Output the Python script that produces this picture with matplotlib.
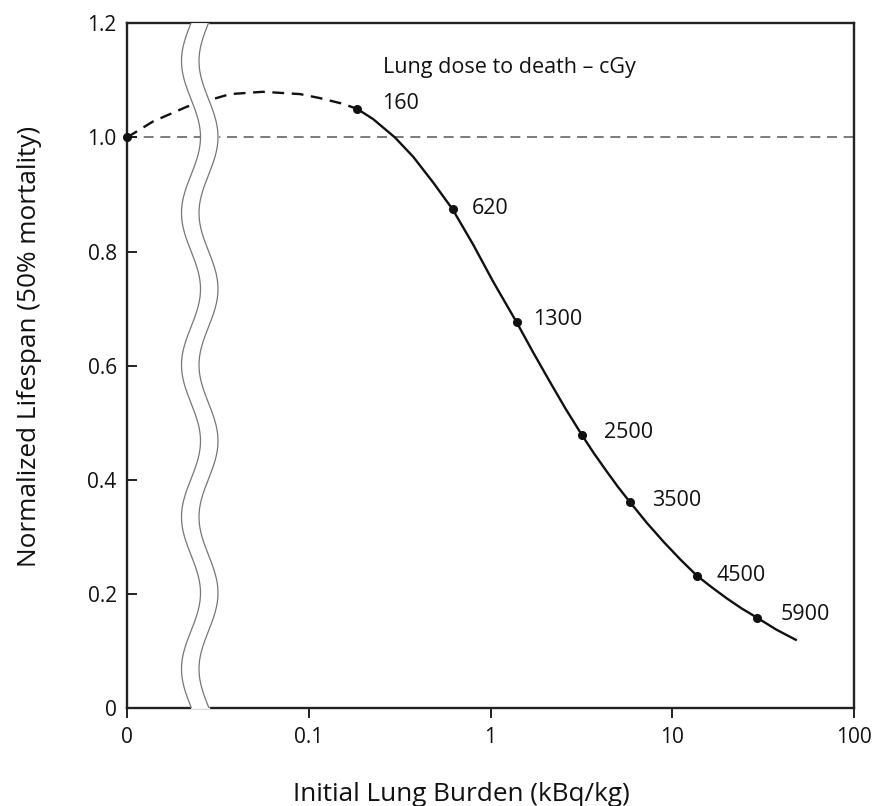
import numpy as np
import matplotlib.pyplot as plt

plt.rcParams['font.family'] = ['Open Sans', 'DejaVu Sans']

# points with the lung dose labels
burden_pts = [0.185, 0.619, 1.394, 3.18, 5.86, 13.7, 29.2]
lifespan_pts = [1.050, 0.874, 0.676, 0.479, 0.361, 0.232, 0.159]
dose_labels = ['160', '620', '1300', '2500', '3500', '4500', '5900']

# solid curve
curve_burden = [0.185, 0.2265, 0.298, 0.376, 0.484, 0.619, 0.804, 1.036,
                1.394, 1.713, 2.104, 2.586, 3.18, 3.702, 4.313, 5.023,
                5.86, 7.24, 8.97, 11.10, 13.7, 16.58, 20.01, 24.15,
                29.2, 37.3, 47.8]
curve_lifespan = [1.050, 1.032, 1.000, 0.966, 0.921, 0.874, 0.812, 0.747,
                  0.676, 0.624, 0.574, 0.525, 0.479, 0.447, 0.417, 0.388,
                  0.361, 0.325, 0.2915, 0.2605, 0.232, 0.2115, 0.1923, 0.1747,
                  0.159, 0.138, 0.120]

# dashed part (control to first dose point)
dash_burden = [0, 0.0139, 0.0214, 0.0369, 0.056, 0.0895, 0.115, 0.154, 0.185]
dash_lifespan = [1.0, 1.028, 1.054, 1.076, 1.080, 1.076, 1.069, 1.059, 1.050]

xticks = [0, 0.1, 1, 10, 100]
xtick_labels = ['0', '0.1', '1', '10', '100']
yticks = [0, 0.2, 0.4, 0.6, 0.8, 1.0, 1.2]
ytick_labels = ['0', '0.2', '0.4', '0.6', '0.8', '1.0', '1.2']

# label offsets in points (x, y)
label_offsets = [(18, 4), (14, 1), (12, 2), (16, 2), (16, 1), (14, 0), (17, 2)]


def fwd(x):
    return np.log10(np.clip(x, 0.01, None))


def inv(y):
    return 10 ** y


W, H = 875, 806
fig = plt.figure(figsize=(W / 100, H / 100), dpi=100)
L, R, T, B = 127, 854, 23.3, 708.3
ax = fig.add_axes([L / W, 1 - B / H, (R - L) / W, (B - T) / H])

ax.set_xscale('function', functions=(fwd, inv))
ax.set_xlim(0, 100)
ax.set_ylim(0, 1.2)

ax.axhline(1.0, color='#666666', lw=1.2, dashes=(6, 4), zorder=1)
ax.plot(dash_burden, dash_lifespan, color='#111111', lw=1.7, dashes=(5, 3.2), zorder=2)
ax.plot(curve_burden, curve_lifespan, color='#111111', lw=1.7, zorder=2)
ax.plot(burden_pts, lifespan_pts, 'o', color='#111111', ms=5.5, zorder=5)
ax.plot([0], [1.0], 'o', color='#111111', ms=5.5, zorder=6, clip_on=False)

for bx, ly, lab, off in zip(burden_pts, lifespan_pts, dose_labels, label_offsets):
    ax.annotate(lab, (bx, ly), xytext=off, textcoords='offset points',
                ha='left', va='center', fontsize=15.5, color='#111111')

ax.text((383 - L) / (R - L), (B - 68) / (B - T), 'Lung dose to death – cGy',
        transform=ax.transAxes, ha='left', va='center', fontsize=15.5, color='#111111')

# axis break (two wavy lines)
py = np.linspace(T, B, 400)
wx = 191 + 9.5 * np.cos(2 * np.pi * (py - 137) / 152)
ya = (B - py) / (B - T)
x1 = (wx - L) / (R - L)
x2 = (wx + 17.5 - L) / (R - L)
ax.fill_betweenx(ya, x1, x2, color='white', transform=ax.transAxes, zorder=3)
ax.plot(x1, ya, color='#777777', lw=0.9, transform=ax.transAxes, zorder=4)
ax.plot(x2, ya, color='#777777', lw=0.9, transform=ax.transAxes, zorder=4)

ax.set_xticks(xticks, labels=xtick_labels)
ax.xaxis.set_minor_locator(plt.NullLocator())
ax.set_yticks(yticks, labels=ytick_labels)
ax.tick_params(axis='x', direction='out', length=7.2, width=1.3, pad=6,
               labelsize=15, colors='#111111')
ax.tick_params(axis='y', direction='in', length=7.2, width=1.3, pad=7.4,
               labelsize=15, colors='#111111')
for s in ax.spines.values():
    s.set_linewidth(1.7)
    s.set_color('#222222')

fig.text(461.5 / W, 1 - 801 / H, 'Initial Lung Burden (kBq/kg)', ha='center',
         va='baseline', fontsize=18.8, color='#111111')
fig.text(30 / W, 1 - 346 / H, 'Normalized Lifespan (50% mortality)', rotation=90,
         ha='center', va='center', fontsize=18.8, color='#111111')

fig.savefig('out.png', dpi=100)
